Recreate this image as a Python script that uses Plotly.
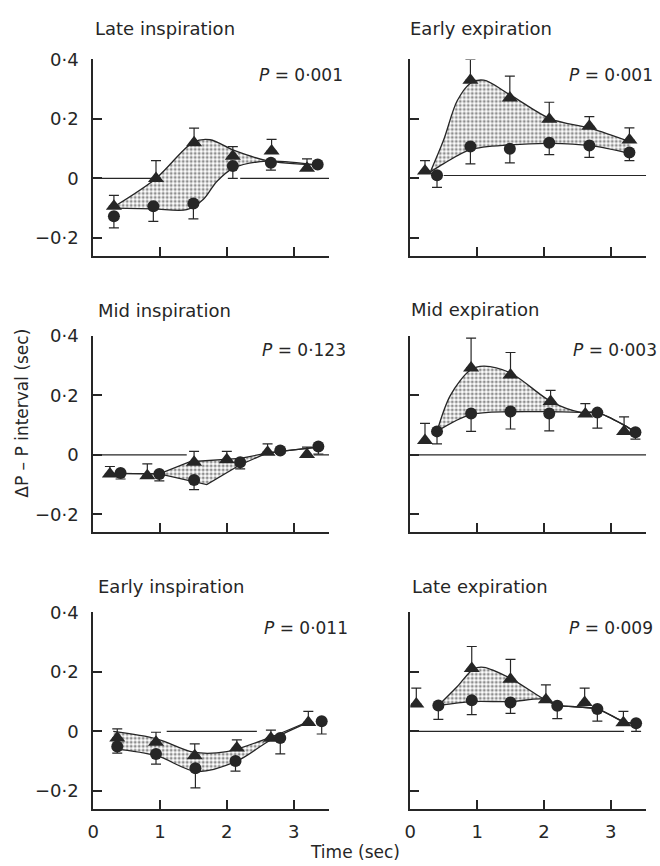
import plotly.graph_objects as go

# ---------------- data ----------------
panel_titles = ["Late inspiration", "Early expiration",
                "Mid inspiration", "Mid expiration",
                "Early inspiration", "Late expiration"]
p_values = ["0·001", "0·001", "0·123", "0·003", "0·011", "0·009"]

x_tick_vals = [0, 1, 2, 3]
x_tick_text = ["0", "1", "2", "3"]
y_tick_vals = [-0.2, 0, 0.2, 0.4]
y_tick_text = ["−0·2", "0", "0·2", "0·4"]

# triangles (mean, upward SE)
tri_x = [[0.31, 0.94, 1.51, 2.09, 2.67, 3.20],
         [0.22, 0.90, 1.49, 2.08, 2.68, 3.28],
         [0.25, 0.81, 1.51, 2.00, 2.61, 3.20],
         [0.22, 0.91, 1.50, 2.10, 2.62, 3.20],
         [0.36, 0.94, 1.52, 2.15, 2.66, 3.22],
         [0.09, 0.92, 1.50, 2.03, 2.61, 3.19]]
tri_y = [[-0.093, 0.000, 0.120, 0.075, 0.092, 0.034],
         [0.025, 0.330, 0.270, 0.199, 0.175, 0.129],
         [-0.064, -0.070, -0.025, -0.016, 0.009, 0.001],
         [0.048, 0.292, 0.268, 0.179, 0.137, 0.079],
         [-0.022, -0.037, -0.082, -0.056, -0.023, 0.030],
         [0.092, 0.211, 0.175, 0.106, 0.097, 0.029]]
tri_err = [[0.036, 0.060, 0.049, 0.032, 0.039, 0.032],
           [0.035, 0.070, 0.074, 0.057, 0.033, 0.041],
           [0.025, 0.040, 0.037, 0.028, 0.028, 0.025],
           [0.058, 0.100, 0.076, 0.038, 0.035, 0.049],
           [0.030, 0.034, 0.040, 0.027, 0.027, 0.037],
           [0.053, 0.074, 0.067, 0.050, 0.048, 0.038]]

# circles (mean, downward SE)
cir_x = [[0.31, 0.90, 1.50, 2.09, 2.66, 3.36],
         [0.40, 0.90, 1.49, 2.08, 2.68, 3.28],
         [0.41, 0.99, 1.51, 2.20, 2.80, 3.37],
         [0.40, 0.91, 1.50, 2.08, 2.80, 3.37],
         [0.36, 0.94, 1.53, 2.13, 2.80, 3.42],
         [0.42, 0.92, 1.50, 2.20, 2.80, 3.38]]
cir_y = [[-0.127, -0.093, -0.084, 0.042, 0.053, 0.047],
         [0.011, 0.107, 0.100, 0.120, 0.111, 0.087],
         [-0.061, -0.064, -0.084, -0.025, 0.015, 0.028],
         [0.079, 0.139, 0.146, 0.139, 0.142, 0.076],
         [-0.051, -0.076, -0.124, -0.100, -0.022, 0.034],
         [0.087, 0.104, 0.097, 0.086, 0.075, 0.027]]
cir_err = [[0.039, 0.051, 0.052, 0.042, 0.025, 0.000],
           [0.041, 0.058, 0.048, 0.040, 0.040, 0.027],
           [0.020, 0.023, 0.033, 0.022, 0.010, 0.025],
           [0.042, 0.060, 0.059, 0.058, 0.052, 0.023],
           [0.022, 0.034, 0.066, 0.034, 0.054, 0.043],
           [0.047, 0.048, 0.037, 0.043, 0.041, 0.027]]

# fitted curves (upper = triangle curve, lower = circle curve)
up_x = [[0.31, 0.94, 1.50, 1.75, 2.10, 2.60, 3.36],
        [0.30, 0.50, 0.70, 0.90, 1.10, 1.50, 2.10, 2.70, 3.30],
        [0.25, 0.99, 1.45, 2.20, 2.60, 2.80, 3.37],
        [0.40, 0.60, 0.90, 1.10, 1.50, 2.10, 2.55, 2.80, 3.20, 3.37],
        [0.30, 0.95, 1.50, 2.00, 2.65, 3.22],
        [0.42, 0.70, 0.95, 1.10, 1.50, 2.00, 2.20, 2.80, 3.20, 3.38]]
up_y = [[-0.095, 0.000, 0.122, 0.130, 0.095, 0.060, 0.045],
        [0.022, 0.130, 0.260, 0.320, 0.330, 0.280, 0.200, 0.168, 0.122],
        [-0.062, -0.064, -0.023, -0.012, 0.006, 0.012, 0.026],
        [0.079, 0.200, 0.285, 0.298, 0.275, 0.180, 0.143, 0.142, 0.100, 0.076],
        [0.000, -0.025, -0.070, -0.068, -0.020, 0.033],
        [0.087, 0.150, 0.210, 0.215, 0.178, 0.108, 0.088, 0.075, 0.032, 0.027]]
low_x = [[0.31, 0.90, 1.40, 1.65, 1.85, 2.10, 2.60, 3.36],
         [0.30, 0.50, 0.90, 1.50, 2.10, 2.70, 3.30],
         [0.25, 0.99, 1.70, 2.20, 2.60, 2.80, 3.37],
         [0.40, 0.90, 1.50, 2.10, 2.55, 2.80, 3.20, 3.37],
         [0.30, 0.95, 1.55, 2.15, 2.65, 3.22],
         [0.42, 0.92, 1.50, 2.00, 2.20, 2.80, 3.20, 3.38]]
low_y = [[-0.100, -0.102, -0.105, -0.070, -0.010, 0.035, 0.058, 0.045],
         [0.022, 0.050, 0.097, 0.113, 0.118, 0.110, 0.083],
         [-0.062, -0.064, -0.100, -0.033, 0.006, 0.012, 0.026],
         [0.079, 0.135, 0.145, 0.145, 0.143, 0.142, 0.100, 0.076],
         [-0.058, -0.082, -0.135, -0.100, -0.030, 0.030],
         [0.087, 0.100, 0.100, 0.108, 0.088, 0.075, 0.032, 0.027]]

# horizontal reference (zero) line pieces per panel
zero_level = [0.0, 0.01, 0.0, 0.0, 0.0, 0.0]
zero_segments = [[(0.0, 0.9), (2.2, 3.53)],
                 [(0.5, 3.53)],
                 [(0.0, 1.4), (3.3, 3.53)],
                 [(0.0, 3.53)],
                 [(1.1, 2.45)],
                 [(0.0, 3.2)]]

# ---------------- figure ----------------
INK = "#262626"
W, H = 660, 866
col_px = [(88, 326), (408, 646)]
row_px = [(49, 248), (329, 528), (609, 808)]
title_px = [(88, 18), (406, 18), (91, 303), (407, 302), (91, 583), (408, 583)]
pval_px = [(253, 65), (566, 65), (256, 343), (570, 343), (258, 625), (566, 625)]

fig = go.Figure()
annotations = []
shapes = []

for i in range(6):
    r, c = divmod(i, 2)
    xa = "x" if i == 0 else f"x{i+1}"
    ya = "y" if i == 0 else f"y{i+1}"
    lshape = "linear" if i == 2 else "spline"

    fig.add_trace(go.Scatter(
        x=low_x[i], y=low_y[i], xaxis=xa, yaxis=ya, mode="lines",
        line=dict(color=INK, width=1.3, shape=lshape, smoothing=0.9),
        hoverinfo="skip", showlegend=False))
    fig.add_trace(go.Scatter(
        x=up_x[i], y=up_y[i], xaxis=xa, yaxis=ya, mode="lines",
        line=dict(color=INK, width=1.3, shape=lshape, smoothing=0.9),
        fill="tonexty", fillcolor="white",
        fillpattern=dict(shape=".", fgcolor="#1e1e1e", bgcolor="white",
                         size=4, solidity=0.45),
        hoverinfo="skip", showlegend=False))
    fig.add_trace(go.Scatter(
        x=tri_x[i], y=tri_y[i], xaxis=xa, yaxis=ya, mode="markers",
        marker=dict(symbol="triangle-up", size=14, color=INK),
        error_y=dict(type="data", symmetric=False, array=tri_err[i],
                     arrayminus=[0] * len(tri_err[i]),
                     color=INK, thickness=1.2, width=5),
        showlegend=False))
    fig.add_trace(go.Scatter(
        x=cir_x[i], y=cir_y[i], xaxis=xa, yaxis=ya, mode="markers",
        marker=dict(symbol="circle", size=12, color=INK),
        error_y=dict(type="data", symmetric=False,
                     array=[0] * len(cir_err[i]), arrayminus=cir_err[i],
                     color=INK, thickness=1.2, width=5),
        showlegend=False))

    for (a, b) in zero_segments[i]:
        shapes.append(dict(type="line", xref=xa, yref=ya, x0=a, x1=b,
                           y0=zero_level[i], y1=zero_level[i],
                           line=dict(color=INK, width=1.2), layer="below"))

    xdom = [col_px[c][0] / W, col_px[c][1] / W]
    ydom = [1 - row_px[r][1] / H, 1 - row_px[r][0] / H]
    xkey = "xaxis" if i == 0 else f"xaxis{i+1}"
    ykey = "yaxis" if i == 0 else f"yaxis{i+1}"
    fig.layout[xkey] = dict(
        domain=xdom, anchor=ya, range=[0, 3.53], showline=True, linewidth=2,
        linecolor=INK, ticks="inside", ticklen=9, tickwidth=2, tickcolor=INK,
        tickvals=x_tick_vals, ticktext=x_tick_text,
        showticklabels=(r == 2), ticklabelstandoff=6,
        tickfont=dict(size=18),
        showgrid=False, zeroline=False, fixedrange=True)
    fig.layout[ykey] = dict(
        domain=ydom, anchor=xa, range=[-0.26, 0.4], showline=True, linewidth=2,
        linecolor=INK, ticks="inside", ticklen=9, tickwidth=2, tickcolor=INK,
        tickvals=y_tick_vals, ticktext=y_tick_text,
        showticklabels=(c == 0), ticklabelstandoff=9,
        tickfont=dict(size=18),
        showgrid=False, zeroline=False, fixedrange=True)

    tx, ty = title_px[i]
    annotations.append(dict(text=panel_titles[i], xref="paper", yref="paper",
                            x=tx / W, y=1 - ty / H, xanchor="left",
                            yanchor="middle", showarrow=False,
                            font=dict(size=18)))
    px_, py_ = pval_px[i]
    annotations.append(dict(text="<i>P</i> = " + p_values[i], xref="paper",
                            yref="paper", x=px_ / W, y=1 - py_ / H,
                            xanchor="left", yanchor="middle", showarrow=False,
                            font=dict(size=17)))

annotations.append(dict(text="ΔP – P interval (sec)", xref="paper", yref="paper",
                        x=16 / W, y=1 - 407 / H, textangle=-90,
                        xanchor="center", yanchor="middle", showarrow=False,
                        font=dict(size=17)))
annotations.append(dict(text="Time (sec)", xref="paper", yref="paper",
                        x=352 / W, y=1 - 852 / H, xanchor="center",
                        yanchor="middle", showarrow=False, font=dict(size=17)))

fig.update_layout(
    width=W, height=H, margin=dict(l=0, r=0, t=0, b=0),
    paper_bgcolor="white", plot_bgcolor="white",
    font=dict(family="DejaVu Sans", size=17, color=INK),
    annotations=annotations, shapes=shapes, showlegend=False)

fig.write_html("out.html",
               config={"displayModeBar": False, "staticPlot": True},
               post_script="document.body.style.margin='0';"
                           "document.body.style.padding='0';"
                           "document.body.style.overflow='hidden';")
